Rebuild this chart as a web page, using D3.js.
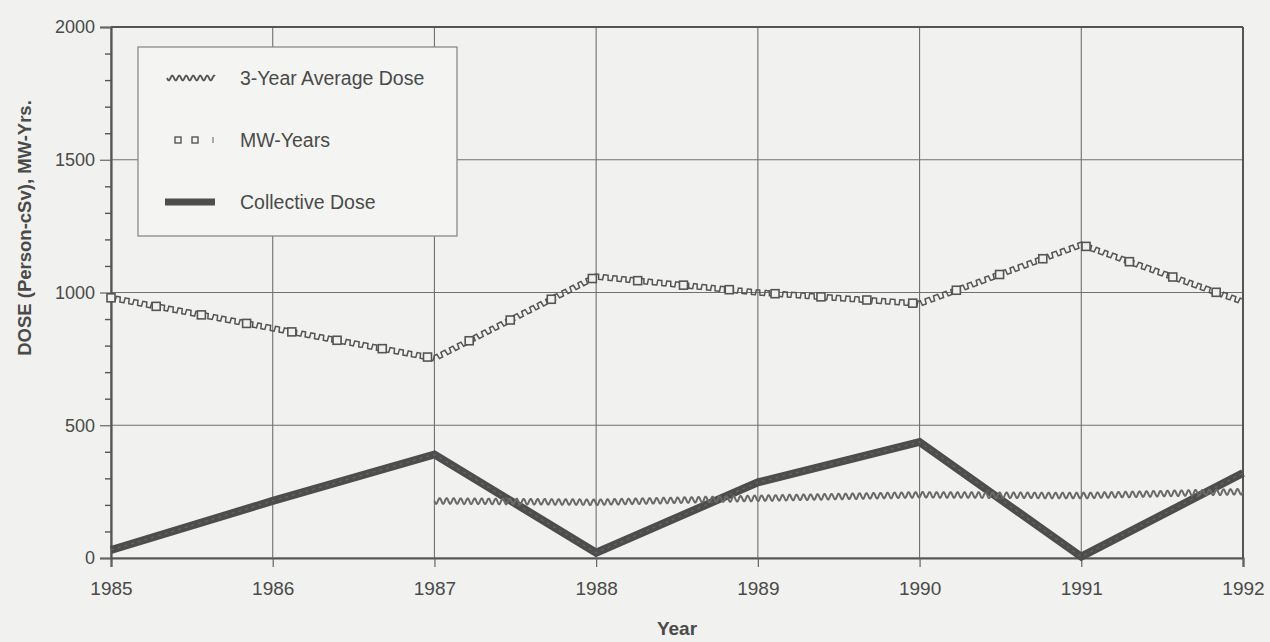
<!DOCTYPE html>
<html><head><meta charset="utf-8">
<script src="https://cdn.jsdelivr.net/npm/d3@7/dist/d3.min.js"></script>
<style>
html,body{margin:0;padding:0;background:#f1f1ef;}
svg{display:block;}
text{font-family:"Liberation Sans",Arial,sans-serif;fill:#4a4a4a;}
</style></head>
<body><svg id="c" width="1270" height="642"></svg>
<script>
const years = [1985, 1986, 1987, 1988, 1989, 1990, 1991, 1992];
const collectiveDose = [30, 215, 390, 20, 285, 437, 5, 320];
const mwYears = [980, 865, 752, 1060, 1000, 958, 1180, 965];
const avgYears = [1987, 1988, 1989, 1990, 1991, 1992];
const avgDose = [215, 210, 225, 238, 235, 250];
const yTicks = [0, 500, 1000, 1500, 2000];
const yMinor = [100,200,300,400,600,700,800,900,1100,1200,1300,1400,1600,1700,1800,1900];
const legendLabels = ["3-Year Average Dose", "MW-Years", "Collective Dose"];
const xTitle = "Year";
const yTitle = "DOSE (Person-cSv), MW-Yrs.";

const W = 1270, H = 642;
const m = {left: 111, right: 27, top: 27, bottom: 84};
const svg = d3.select("#c");
const bg = "#f1f1ef";
svg.append("rect").attr("width", W).attr("height", H).attr("fill", bg);

const x = d3.scaleLinear().domain([1985, 1992]).range([m.left, W - m.right]);
const y = d3.scaleLinear().domain([0, 2000]).range([H - m.bottom, m.top]);

const gridC = "#707070";
svg.append("g").selectAll("line").data(years).join("line")
  .attr("x1", d => x(d)).attr("x2", d => x(d))
  .attr("y1", y(0)).attr("y2", y(2000))
  .attr("stroke", gridC).attr("stroke-width", 1.1);
svg.append("g").selectAll("line").data(yTicks).join("line")
  .attr("x1", x(1985)).attr("x2", x(1992))
  .attr("y1", d => y(d)).attr("y2", d => y(d))
  .attr("stroke", gridC).attr("stroke-width", 1.1);

const xAxis = d3.axisBottom(x).tickValues(years).tickFormat(d3.format("d")).tickSize(9).tickPadding(15);
const gx = svg.append("g").attr("transform", `translate(0,${y(0)})`).call(xAxis);
gx.select(".domain").attr("stroke", "#555").attr("stroke-width", 2.2);
gx.selectAll(".tick line").attr("stroke", "#666").attr("stroke-width", 1.2);
gx.selectAll("text").attr("font-size", 19).attr("fill", "#4a4a4a").attr("font-family", null);

const yAxis = d3.axisLeft(y).tickValues(yTicks).tickFormat(d3.format("d")).tickSize(11).tickPadding(5);
const gy = svg.append("g").attr("transform", `translate(${x(1985)},0)`).call(yAxis);
gy.select(".domain").attr("stroke", "#555").attr("stroke-width", 2.2);
gy.selectAll(".tick line").attr("stroke", "#666").attr("stroke-width", 1.2);
gy.selectAll("text").attr("font-size", 18).attr("fill", "#4a4a4a").attr("font-family", null);
const yAxisMinor = d3.axisLeft(y).tickValues(yMinor).tickSize(6).tickFormat("");
const gym = svg.append("g").attr("transform", `translate(${x(1985)},0)`).call(yAxisMinor);
gym.select(".domain").remove();
gym.selectAll(".tick line").attr("stroke", "#555").attr("stroke-width", 1.4);

svg.append("line").attr("x1", x(1985)).attr("x2", x(1992)).attr("y1", y(2000)).attr("y2", y(2000)).attr("stroke", "#555").attr("stroke-width", 2);
svg.append("line").attr("x1", x(1992)).attr("x2", x(1992)).attr("y1", y(0)).attr("y2", y(2000)).attr("stroke", "#555").attr("stroke-width", 2);

svg.append("text").attr("x", (x(1985) + x(1992)) / 2).attr("y", 635).attr("text-anchor", "middle")
  .attr("font-size", 19).attr("font-weight", "bold").text(xTitle);
svg.append("text").attr("transform", `translate(31,228) rotate(-90)`).attr("text-anchor", "middle")
  .attr("font-size", 18.5).attr("font-weight", "bold").text(yTitle);

function resample(pts, step) {
  const out = [];
  let total = 0;
  const segs = [];
  for (let i = 0; i < pts.length - 1; i++) {
    const [x0, y0] = pts[i], [x1, y1] = pts[i + 1];
    const L = Math.hypot(x1 - x0, y1 - y0);
    segs.push({x0, y0, x1, y1, L, s0: total});
    total += L;
  }
  for (let s = 0; s <= total; s += step) {
    let sg = segs.find(g => s >= g.s0 && s <= g.s0 + g.L) || segs[segs.length - 1];
    const t = sg.L ? (s - sg.s0) / sg.L : 0;
    const px = sg.x0 + (sg.x1 - sg.x0) * t, py = sg.y0 + (sg.y1 - sg.y0) * t;
    const tx = (sg.x1 - sg.x0) / sg.L, ty = (sg.y1 - sg.y0) / sg.L;
    out.push({s, x: px, y: py, nx: -ty, ny: tx});
  }
  return {samples: out, total};
}
function wavePath(pts, amp, period, square) {
  const {samples} = resample(pts, 0.5);
  return d3.line()(samples.map(p => {
    let v = Math.sin(2 * Math.PI * p.s / period);
    if (square) v = v >= 0 ? 1 : -1;
    return [p.x + p.nx * amp * v, p.y + p.ny * amp * v];
  }));
}

// Collective dose
const collPts = years.map((d, i) => [x(d), y(collectiveDose[i])]);
svg.append("path").attr("d", d3.line()(collPts)).attr("fill", "none")
  .attr("stroke", "#4d4d4d").attr("stroke-width", 8).attr("stroke-linejoin", "miter");
svg.append("path").attr("d", d3.line()(collPts)).attr("fill", "none")
  .attr("stroke", "#666").attr("stroke-width", 1.2).attr("stroke-dasharray", "3,4");

// 3-year average
const avgPts = avgYears.map((d, i) => [x(d), y(avgDose[i])]);
svg.append("path").attr("d", wavePath(avgPts, 2.8, 7, false)).attr("fill", "none")
  .attr("stroke", "#6a6a6a").attr("stroke-width", 2);

// MW-Years
const mwPts = years.map((d, i) => [x(d), y(mwYears[i])]);
svg.append("path").attr("d", wavePath(mwPts, 2.5, 9, true)).attr("fill", "none")
  .attr("stroke", "#555").attr("stroke-width", 1.5);
const mwRes = resample(mwPts, 46).samples;
svg.append("g").selectAll("rect").data(mwRes).join("rect")
  .attr("x", d => d.x - 4).attr("y", d => d.y - 4)
  .attr("width", 8).attr("height", 8)
  .attr("fill", bg).attr("stroke", "#555").attr("stroke-width", 1.6);

// Legend
const lg = svg.append("g");
lg.append("rect").attr("x", 138).attr("y", 47).attr("width", 319).attr("height", 189)
  .attr("fill", "#f4f4f2").attr("stroke", "#8a8a8a").attr("stroke-width", 1.3);
const rowY = [78, 140, 202];
lg.selectAll("text").data(legendLabels).join("text")
  .attr("x", 240).attr("y", (d, i) => rowY[i] + 7).attr("font-size", 19.5).text(d => d);
lg.append("path").attr("d", wavePath([[167, rowY[0]], [215, rowY[0]]], 2.4, 7, false))
  .attr("fill", "none").attr("stroke", "#555").attr("stroke-width", 1.8);
lg.selectAll("rect.sq").data([178, 195]).join("rect").attr("class", "sq")
  .attr("x", d => d - 3).attr("y", rowY[1] - 3).attr("width", 6).attr("height", 6)
  .attr("fill", "none").attr("stroke", "#555").attr("stroke-width", 1.4);
lg.append("line").attr("x1", 213).attr("x2", 213).attr("y1", rowY[1] - 3).attr("y2", rowY[1] + 3)
  .attr("stroke", "#777").attr("stroke-width", 1.2);
lg.append("line").attr("x1", 165).attr("x2", 215).attr("y1", rowY[2]).attr("y2", rowY[2])
  .attr("stroke", "#4d4d4d").attr("stroke-width", 7);
</script></body></html>
